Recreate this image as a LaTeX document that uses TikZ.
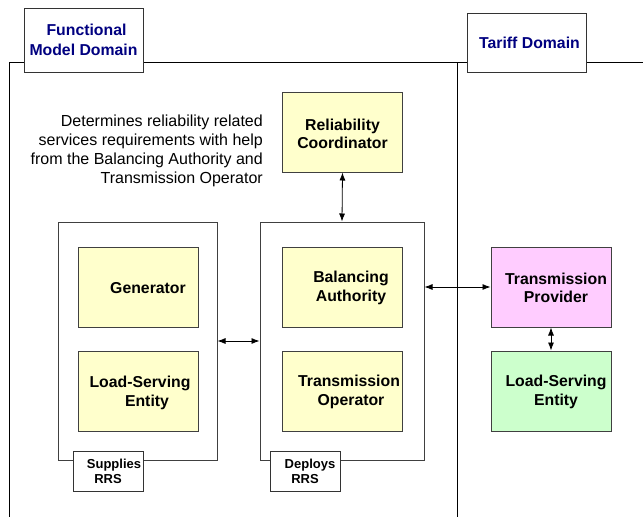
\documentclass[tikz,border=0pt]{standalone}
\usepackage{fontspec}
\setmainfont{Liberation Sans}
\usetikzlibrary{arrows.meta}

\definecolor{roleyellow}{HTML}{FFFFCC}
\definecolor{rolepink}{HTML}{FFCCFF}
\definecolor{rolegreen}{HTML}{CCFFCC}
\definecolor{domainblue}{HTML}{000080}

\begin{document}
\begin{tikzpicture}[x=1pt, y=-1pt,
  rolebox/.style={draw=black!75, line width=1pt, minimum width=120pt, minimum height=80pt, inner sep=0pt},
  roletext/.style={font=\fontsize{15.8}{18.5}\selectfont\bfseries, align=center, inner sep=0pt},
  groupbox/.style={draw=black!75, line width=1pt, fill=white, inner sep=0pt},
  tabbox/.style={draw=black!80, line width=1pt, fill=white, minimum width=70pt, minimum height=40pt, inner sep=0pt,
    font=\fontsize{13}{15}\selectfont\bfseries, align=center},
  domaintab/.style={draw=black!80, line width=1pt, fill=white, minimum width=119pt, inner sep=0pt,
    font=\fontsize{15.8}{20}\selectfont\bfseries, text=domainblue, align=center},
  link/.style={{Latex[length=8pt,width=6pt]}-{Latex[length=8pt,width=6pt]}, line width=0.8pt, black}]

  \useasboundingbox (0,0) rectangle (643,517);

  % Domain borders
  \draw[line width=1pt] (9,517) -- (9,62) -- (643,62);
  \draw[line width=1pt] (457,62) -- (457,517);

  % Domain tabs
  \node[domaintab, minimum height=64pt] (fmd) at (83.5,40) {\hspace*{6pt}Functional\\Model Domain};
  \node[domaintab, minimum height=59pt] (tariff) at (526.5,42.5) {\hspace*{6pt}Tariff Domain};

  % Note on the reliability coordinator
  \node[font=\fontsize{16}{19}\selectfont, align=right, anchor=east, inner sep=0pt] (note) at (263,151)
    {Determines reliability related\\services requirements with help\\from the Balancing Authority and\\Transmission Operator};

  % Reliability coordinator
  \node[rolebox, fill=roleyellow] (rc) at (342.5,132) {};
  \node[roletext] (rctxt) at (342.5,134) {Reliability\\Coordinator};

  % Supplier group
  \node[groupbox, minimum width=159pt, minimum height=238pt] (supply) at (137.5,341) {};
  \node[rolebox, fill=roleyellow] (gen) at (138,287) {};
  \node[roletext] (gentxt) at (148,288) {Generator};
  \node[rolebox, fill=roleyellow] (lse) at (138,391) {};
  \node[roletext] (lsetxt) at (140,393) {Load-Serving\\\hspace*{14pt}Entity};
  \node[tabbox] (supplies) at (108,471) {\hspace*{12pt}Supplies\\RRS};

  % Deployer group
  \node[groupbox, minimum width=164pt, minimum height=238pt] (deploy) at (342,341) {};
  \node[rolebox, fill=roleyellow] (ba) at (342,287) {};
  \node[roletext] (batxt) at (351,288) {Balancing\\Authority};
  \node[rolebox, fill=roleyellow] (top) at (342,391) {};
  \node[roletext] (toptxt) at (349,392) {Transmission\\\hspace*{4pt}Operator};
  \node[tabbox] (deploys) at (305,471) {\hspace*{10pt}Deploys\\RRS};

  % Tariff domain roles
  \node[rolebox, fill=rolepink] (tp) at (551,287) {};
  \node[roletext] (tptxt) at (556,288) {Transmission\\Provider};
  \node[rolebox, fill=rolegreen] (tlse) at (551,391) {};
  \node[roletext] (tlsetxt) at (556,392) {Load-Serving\\Entity};

  % Links
  \draw[link] (rc.south) -- (deploy.north);
  \draw[link] (supply.east) -- (deploy.west);
  \draw[link] (deploy.east |- tp.west) -- (tp.west);
  \draw[link] (tp.south) -- (tlse.north);

\end{tikzpicture}
\end{document}
